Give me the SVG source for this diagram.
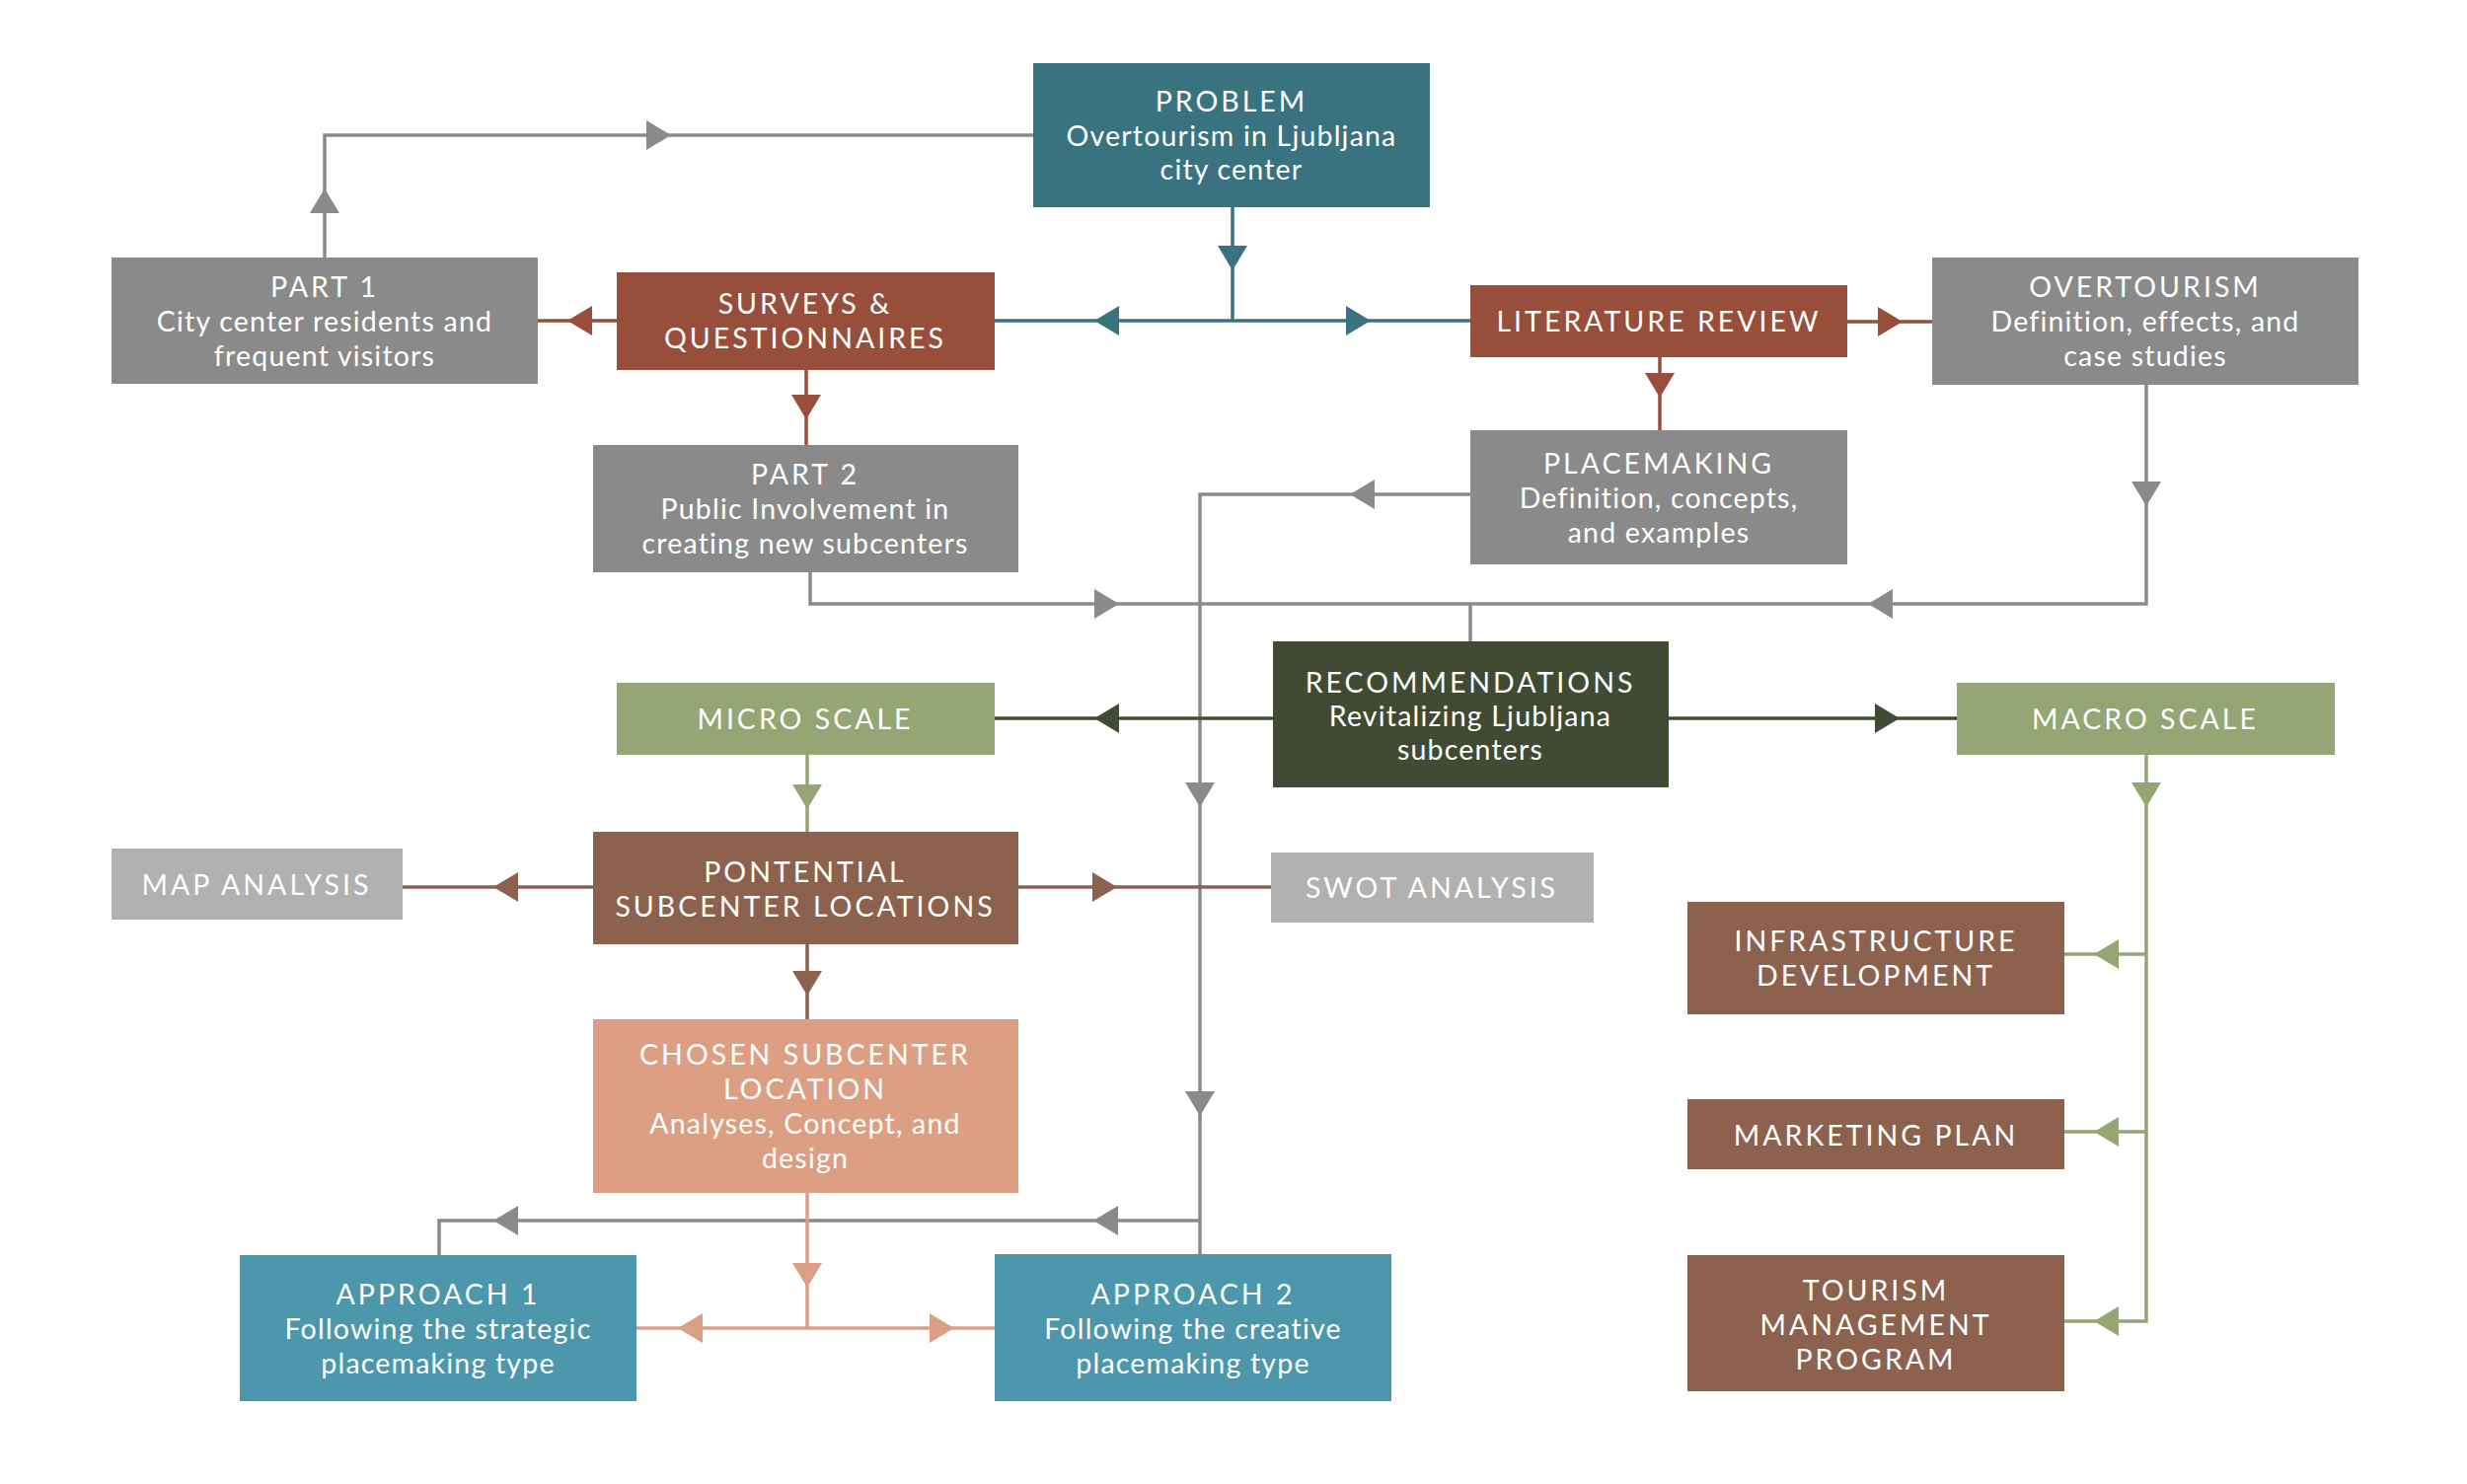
<svg xmlns="http://www.w3.org/2000/svg" xmlns:xlink="http://www.w3.org/1999/xlink" width="2500" height="1504" viewBox="0 0 2500 1504">
<style>
  text { font-family: Lato, "Open Sans", "Liberation Sans", sans-serif; font-size: 28.5px; fill: #ffffff; text-anchor: middle; }
  .t { letter-spacing: 3px; }
  .s { letter-spacing: 1.2px; }
  .ln { fill: none; stroke-width: 3.5; }
  .gray { stroke: #8A8A8A; } .gf { fill: #8A8A8A; }
  .teal { stroke: #3A7380; } .tf { fill: #3A7380; }
  .red { stroke: #974F3C; } .rf { fill: #974F3C; }
  .dg { stroke: #414B33; } .dgf { fill: #414B33; }
  .sage { stroke: #95A574; } .sf { fill: #95A574; }
  .brn { stroke: #8C624E; } .bf { fill: #8C624E; }
  .sal { stroke: #DD9F84; } .slf { fill: #DD9F84; }
</style>
<defs>
  <path id="ah" d="M0,0 L-25,-15 L-25,15 Z"/>
</defs>
<rect width="2500" height="1504" fill="#ffffff"/>

<g id="connectors">
  <!-- gray -->
  <polyline class="ln gray" points="329,261 329,137 1047,137"/>
  <polyline class="ln gray" points="1490,501 1216,501 1216,1271"/>
  <polyline class="ln gray" points="2175,390 2175,612 821,612 821,580"/>
  <line class="ln gray" x1="1490" y1="612" x2="1490" y2="650"/>
  <polyline class="ln gray" points="1216,1237 445,1237 445,1272"/>
  <!-- teal -->
  <line class="ln teal" x1="1249" y1="210" x2="1249" y2="325"/>
  <line class="ln teal" x1="1008" y1="325" x2="1490" y2="325"/>
  <!-- red -->
  <line class="ln red" x1="545" y1="325" x2="625" y2="325"/>
  <line class="ln red" x1="817" y1="375" x2="817" y2="451"/>
  <line class="ln red" x1="1872" y1="326" x2="1958" y2="326"/>
  <line class="ln red" x1="1682" y1="362" x2="1682" y2="436"/>
  <!-- dark green -->
  <line class="ln dg" x1="1008" y1="728" x2="1290" y2="728"/>
  <line class="ln dg" x1="1691" y1="728" x2="1983" y2="728"/>
  <!-- sage -->
  <line class="ln sage" x1="818" y1="765" x2="818" y2="843"/>
  <polyline class="ln sage" points="2175,765 2175,1339 2092,1339"/>
  <line class="ln sage" x1="2175" y1="967" x2="2092" y2="967"/>
  <line class="ln sage" x1="2175" y1="1147" x2="2092" y2="1147"/>
  <!-- brown -->
  <line class="ln brn" x1="408" y1="899" x2="601" y2="899"/>
  <line class="ln brn" x1="1032" y1="899" x2="1288" y2="899"/>
  <line class="ln brn" x1="818" y1="957" x2="818" y2="1033"/>
  <!-- salmon -->
  <line class="ln sal" x1="818" y1="1209" x2="818" y2="1346"/>
  <line class="ln sal" x1="645" y1="1346" x2="1008" y2="1346"/>

  <!-- arrowheads -->
  <g class="gf">
    <use xlink:href="#ah" transform="translate(329,191) rotate(-90)"/>
    <use xlink:href="#ah" transform="translate(680,137)"/>
    <use xlink:href="#ah" transform="translate(1368,501) rotate(180)"/>
    <use xlink:href="#ah" transform="translate(2175,513) rotate(90)"/>
    <use xlink:href="#ah" transform="translate(1134,612)"/>
    <use xlink:href="#ah" transform="translate(1893,612) rotate(180)"/>
    <use xlink:href="#ah" transform="translate(1216,818) rotate(90)"/>
    <use xlink:href="#ah" transform="translate(1216,1131) rotate(90)"/>
    <use xlink:href="#ah" transform="translate(1108,1237) rotate(180)"/>
    <use xlink:href="#ah" transform="translate(500,1237) rotate(180)"/>
  </g>
  <g class="tf">
    <use xlink:href="#ah" transform="translate(1249,274) rotate(90)"/>
    <use xlink:href="#ah" transform="translate(1109,325) rotate(180)"/>
    <use xlink:href="#ah" transform="translate(1389,325)"/>
  </g>
  <g class="rf">
    <use xlink:href="#ah" transform="translate(575,325) rotate(180)"/>
    <use xlink:href="#ah" transform="translate(817,425) rotate(90)"/>
    <use xlink:href="#ah" transform="translate(1928,326)"/>
    <use xlink:href="#ah" transform="translate(1682,403) rotate(90)"/>
  </g>
  <g class="dgf">
    <use xlink:href="#ah" transform="translate(1109,728) rotate(180)"/>
    <use xlink:href="#ah" transform="translate(1925,728)"/>
  </g>
  <g class="sf">
    <use xlink:href="#ah" transform="translate(818,820) rotate(90)"/>
    <use xlink:href="#ah" transform="translate(2175,818) rotate(90)"/>
    <use xlink:href="#ah" transform="translate(2122,967) rotate(180)"/>
    <use xlink:href="#ah" transform="translate(2122,1147) rotate(180)"/>
    <use xlink:href="#ah" transform="translate(2122,1339) rotate(180)"/>
  </g>
  <g class="bf">
    <use xlink:href="#ah" transform="translate(500,899) rotate(180)"/>
    <use xlink:href="#ah" transform="translate(1132,899)"/>
    <use xlink:href="#ah" transform="translate(818,1009) rotate(90)"/>
  </g>
  <g class="slf">
    <use xlink:href="#ah" transform="translate(818,1305) rotate(90)"/>
    <use xlink:href="#ah" transform="translate(687,1346) rotate(180)"/>
    <use xlink:href="#ah" transform="translate(967,1346)"/>
  </g>
</g>

<g id="problem">
  <rect x="1047" y="64" width="402" height="146" fill="#3A7380"/>
  <text x="1248" y="113" class="t">PROBLEM</text>
  <text x="1248" y="148" class="s">Overtourism in Ljubljana</text>
  <text x="1248" y="182" class="s">city center</text>
</g>
<g id="part1">
  <rect x="113" y="261" width="432" height="128" fill="#8A8A8A"/>
  <text x="329" y="301" class="t">PART 1</text>
  <text x="329" y="336" class="s">City center residents and</text>
  <text x="329" y="371" class="s">frequent visitors</text>
</g>
<g id="surveys">
  <rect x="625" y="276" width="383" height="99" fill="#974F3C"/>
  <text x="816" y="318" class="t">SURVEYS &amp;</text>
  <text x="816" y="353" class="t">QUESTIONNAIRES</text>
</g>
<g id="literature">
  <rect x="1490" y="289" width="382" height="73" fill="#974F3C"/>
  <text x="1681" y="336" class="t">LITERATURE REVIEW</text>
</g>
<g id="overtourism">
  <rect x="1958" y="261" width="432" height="129" fill="#8A8A8A"/>
  <text x="2174" y="301" class="t">OVERTOURISM</text>
  <text x="2174" y="336" class="s">Definition, effects, and</text>
  <text x="2174" y="371" class="s">case studies</text>
</g>
<g id="part2">
  <rect x="601" y="451" width="431" height="129" fill="#8A8A8A"/>
  <text x="816" y="491" class="t">PART 2</text>
  <text x="816" y="526" class="s">Public Involvement in</text>
  <text x="816" y="561" class="s">creating new subcenters</text>
</g>
<g id="placemaking">
  <rect x="1490" y="436" width="382" height="136" fill="#8A8A8A"/>
  <text x="1681" y="480" class="t">PLACEMAKING</text>
  <text x="1681" y="515" class="s">Definition, concepts,</text>
  <text x="1681" y="550" class="s">and examples</text>
</g>
<g id="recommendations">
  <rect x="1290" y="650" width="401" height="148" fill="#414B33"/>
  <text x="1490" y="702" class="t">RECOMMENDATIONS</text>
  <text x="1490" y="736" class="s">Revitalizing Ljubljana</text>
  <text x="1490" y="770" class="s">subcenters</text>
</g>
<g id="micro">
  <rect x="625" y="692" width="383" height="73" fill="#95A574"/>
  <text x="816" y="739" class="t">MICRO SCALE</text>
</g>
<g id="macro">
  <rect x="1983" y="692" width="383" height="73" fill="#95A574"/>
  <text x="2174" y="739" class="t">MACRO SCALE</text>
</g>
<g id="map">
  <rect x="113" y="860" width="295" height="72" fill="#B1B1B1"/>
  <text x="260" y="907" class="t">MAP ANALYSIS</text>
</g>
<g id="potential">
  <rect x="601" y="843" width="431" height="114" fill="#8C624E"/>
  <text x="816" y="894" class="t">PONTENTIAL</text>
  <text x="816" y="929" class="t">SUBCENTER LOCATIONS</text>
</g>
<g id="swot">
  <rect x="1288" y="864" width="327" height="71" fill="#B1B1B1"/>
  <text x="1451" y="910" class="t">SWOT ANALYSIS</text>
</g>
<g id="infrastructure">
  <rect x="1710" y="914" width="382" height="114" fill="#8C624E"/>
  <text x="1901" y="964" class="t">INFRASTRUCTURE</text>
  <text x="1901" y="999" class="t">DEVELOPMENT</text>
</g>
<g id="marketing">
  <rect x="1710" y="1114" width="382" height="71" fill="#8C624E"/>
  <text x="1901" y="1161" class="t">MARKETING PLAN</text>
</g>
<g id="tourism">
  <rect x="1710" y="1272" width="382" height="138" fill="#8C624E"/>
  <text x="1901" y="1318" class="t">TOURISM</text>
  <text x="1901" y="1353" class="t">MANAGEMENT</text>
  <text x="1901" y="1388" class="t">PROGRAM</text>
</g>
<g id="chosen">
  <rect x="601" y="1033" width="431" height="176" fill="#DD9F84"/>
  <text x="816" y="1079" class="t">CHOSEN SUBCENTER</text>
  <text x="816" y="1114" class="t">LOCATION</text>
  <text x="816" y="1149" class="s">Analyses, Concept, and</text>
  <text x="816" y="1184" class="s">design</text>
</g>
<g id="approach1">
  <rect x="243" y="1272" width="402" height="148" fill="#4C97AB"/>
  <text x="444" y="1322" class="t">APPROACH 1</text>
  <text x="444" y="1357" class="s">Following the strategic</text>
  <text x="444" y="1392" class="s">placemaking type</text>
</g>
<g id="approach2">
  <rect x="1008" y="1271" width="402" height="149" fill="#4C97AB"/>
  <text x="1209" y="1322" class="t">APPROACH 2</text>
  <text x="1209" y="1357" class="s">Following the creative</text>
  <text x="1209" y="1392" class="s">placemaking type</text>
</g>
</svg>
